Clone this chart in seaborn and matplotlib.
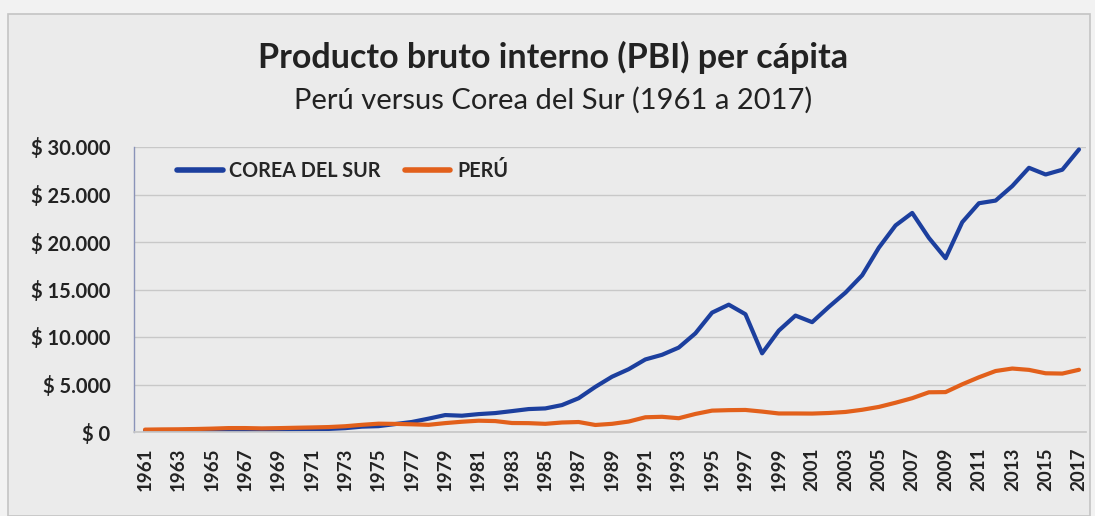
import numpy as np
import pandas as pd
import matplotlib
matplotlib.use("Agg")
import matplotlib.pyplot as plt
from matplotlib.patches import Rectangle
import seaborn as sns

# Data (USD per capita)
years = list(range(1961, 2018))
corea = [94, 106, 146, 124, 109, 133, 161, 199, 243, 279,
         301, 323, 406, 563, 616, 834, 1055, 1405, 1783, 1715,
         1883, 1993, 2199, 2413, 2482, 2835, 3555, 4749, 5817, 6610,
         7637, 8127, 8885, 10385, 12565, 13404, 12398, 8282, 10672, 12257,
         11561, 13165, 14673, 16496, 19403, 21743, 23060, 20431, 18291, 22087,
         24080, 24359, 25890, 27811, 27105, 27608, 29743]
peru = [250, 273, 285, 314, 355, 412, 414, 380, 407, 445,
        479, 519, 606, 754, 876, 854, 811, 756, 936, 1080,
        1190, 1150, 946, 932, 860, 1000, 1050, 740, 860, 1100,
        1550, 1600, 1450, 1900, 2250, 2300, 2320, 2150, 1950, 1950,
        1940, 2000, 2110, 2340, 2640, 3080, 3560, 4180, 4200, 5020,
        5760, 6420, 6680, 6540, 6180, 6150, 6550]
series_names = ["COREA DEL SUR", "PERÚ"]
series_colors = ["#1c3f9e", "#e2601b"]
y_ticks = [0, 5000, 10000, 15000, 20000, 25000, 30000]

df = pd.DataFrame({
    "year": years * 2,
    "pbi": corea + peru,
    "pais": [series_names[0]] * len(years) + [series_names[1]] * len(years),
})

sns.set_theme(style="white")
plt.rcParams["font.family"] = ["Lato", "DejaVu Sans"]

bg = "#ebebeb"
fig = plt.figure(figsize=(10.95, 5.16), dpi=100, facecolor="#f2f2f2")
fig.patches.append(Rectangle((8 / 1095, 0), 1082 / 1095, 1 - 14 / 516,
                             transform=fig.transFigure, facecolor=bg,
                             edgecolor="#c4c4c4", lw=1.2, zorder=-10))
ax = fig.add_axes([134 / 1095, 1 - 432 / 516, 952 / 1095, 285 / 516])
ax.set_zorder(5)
ax.set_facecolor(bg)

sns.lineplot(data=df, x="year", y="pbi", hue="pais", palette=series_colors,
             linewidth=3.0, ax=ax, legend=False)

ax.set_xlim(1960.34, 2017.42)
ax.set_ylim(0, 30000)
ax.set_yticks(y_ticks)
ax.set_yticklabels(["$ 0" if v == 0 else "$ " + f"{v:,}".replace(",", ".") for v in y_ticks],
                   fontsize=14.5, fontweight="bold", color="#222222")
ax.set_xticks(years[::2])
ax.set_xticklabels([str(y) for y in years[::2]], rotation=90,
                   fontsize=13.5, fontweight="bold", color="#222222")
ax.tick_params(axis="y", direction="in", length=5, width=1, color="#8a93b8", pad=17)
ax.tick_params(axis="x", length=0, pad=11)
ax.grid(axis="y", color="#c8c8c8", lw=1)
ax.set_axisbelow(True)
for s in ["top", "right"]:
    ax.spines[s].set_visible(False)
ax.spines["left"].set_color("#8a93b8")
ax.spines["left"].set_linewidth(1)
ax.spines["bottom"].set_color("#c8c8c8")
ax.set_xlabel("")
ax.set_ylabel("")

# legend
handles = [plt.Line2D([], [], color=c, lw=4) for c in series_colors]
leg = ax.legend(handles, series_names, loc="upper left", bbox_to_anchor=(0.035, 0.986),
                ncol=2, frameon=False, borderpad=0, handlelength=2.3, handletextpad=0.35,
                columnspacing=1.2, prop={"weight": "bold", "size": 14.2})

fig.text(0.505, 1 - 57 / 516, "Producto bruto interno (PBI) per cápita",
         ha="center", va="center", fontsize=24.5, fontweight="bold", color="#222222")
fig.text(0.505, 1 - 100 / 516, "Perú versus Corea del Sur (1961 a 2017)",
         ha="center", va="center", fontsize=21, color="#222222")

fig.savefig("out.png", dpi=100, facecolor=fig.get_facecolor())
